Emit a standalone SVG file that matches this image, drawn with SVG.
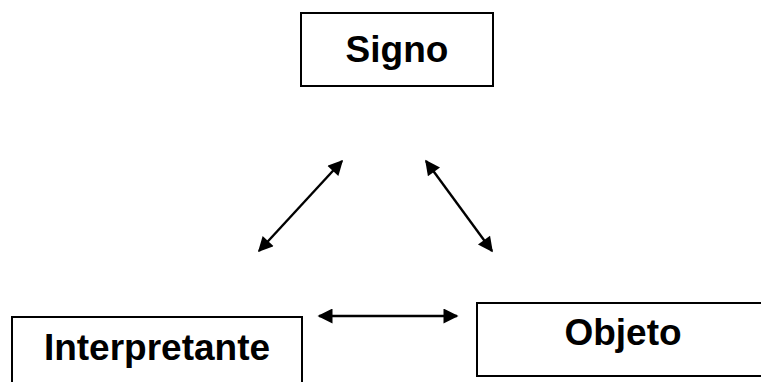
<svg xmlns="http://www.w3.org/2000/svg" width="761" height="382" viewBox="0 0 761 382">
<style>
.box{fill:#fff;stroke:#000;stroke-width:2}
.lbl{font-family:"Liberation Sans",Arial,sans-serif;font-weight:bold;font-size:37px;fill:#000;text-anchor:middle}
.con{stroke:#000;stroke-width:2.4;fill:none;marker-start:url(#ah);marker-end:url(#ah)}
</style>
<defs>
<marker id="ah" viewBox="0 0 10 10" refX="9" refY="5" markerWidth="18" markerHeight="15" markerUnits="userSpaceOnUse" orient="auto-start-reverse">
<path d="M0,0 L10,5 L0,10 z" fill="#000"/>
</marker>
</defs>
<rect width="761" height="382" fill="#fff"/>
<g id="connectors">
<line class="con" x1="259" y1="251" x2="342" y2="161"/>
<line class="con" x1="426" y1="161" x2="492" y2="251"/>
<line class="con" x1="319" y1="316" x2="457" y2="316"/>
</g>
<g id="signo">
<rect class="box" x="301" y="13" width="192" height="73"/>
<text class="lbl" x="397" y="62">Signo</text>
</g>
<g id="interpretante">
<rect class="box" x="12" y="317" width="290" height="80"/>
<text class="lbl" x="157" y="360">Interpretante</text>
</g>
<g id="objeto">
<rect class="box" x="477" y="303" width="300" height="73"/>
<text class="lbl" x="623" y="345">Objeto</text>
</g>
</svg>
